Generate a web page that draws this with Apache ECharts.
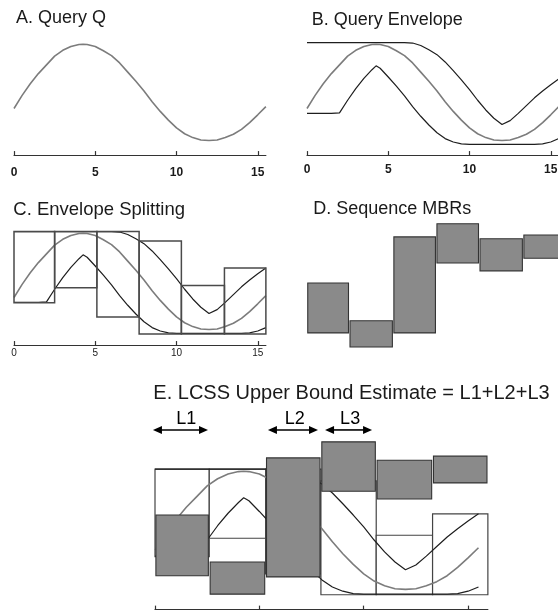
<!DOCTYPE html>
<html><head><meta charset="utf-8">
<script src="https://cdn.jsdelivr.net/npm/echarts@6/dist/echarts.min.js"></script>
<style>html,body{margin:0;padding:0;background:#fff}#c{width:558px;height:611px}</style>
</head><body><div id="c"></div>
<script>
// ---- data ----
const tSamples = [0,0.5,1,1.5,2,2.5,3,3.5,4,4.25,4.5,5,5.5,6,6.5,7,7.5,8,8.5,9,9.5,10,10.5,11,11.5,12,12.5,13,13.5,14,14.5,15,15.5];
const queryQ   = [-0.33,-0.06,0.18,0.39,0.57,0.75,0.87,0.95,0.99,0.995,0.99,0.95,0.86,0.76,0.61,0.42,0.23,0.03,-0.19,-0.39,-0.57,-0.73,-0.85,-0.93,-0.98,-0.99,-0.98,-0.93,-0.86,-0.76,-0.62,-0.46,-0.29];
const envUpper = [1.03,1.03,1.03,1.03,1.03,1.03,1.03,1.03,1.03,1.03,1.03,1.03,1.03,1.03,1.02,0.97,0.88,0.78,0.63,0.45,0.26,0.06,-0.16,-0.36,-0.53,-0.66,-0.58,-0.43,-0.27,-0.11,0.03,0.16,0.28];
const envLower = [-0.43,-0.43,-0.43,-0.43,-0.42,-0.16,0.08,0.29,0.47,0.55,0.5,0.32,0.13,-0.07,-0.29,-0.49,-0.67,-0.83,-0.95,-1.02,-1.06,-1.07,-1.07,-1.07,-1.07,-1.07,-1.07,-1.07,-1.07,-1.07,-1.06,-1.02,-0.95];
const tickValues = [0,5,10,15];
const splitEdgesC = [0,2.5,5.1,7.7,10.3,12.95,15.5];
const envBoxHi = [1.03,1.03,1.03,0.835,-0.08,0.28];
const envBoxLo = [-0.44,-0.13,-0.73,-1.08,-1.08,-1.08];
const mbrEdges = [0,2.6,5.3,7.95,10.6,13.3,15.95];
const mbrHiD = [-0.03,-0.81,0.92,1.19,0.88,0.96];
const mbrLoD = [-1.06,-1.35,-1.06,0.38,0.22,0.48];
const mbrHiE = [0.26,-0.53,1.22,1.49,1.18,1.25];
const mbrLoE = [-0.76,-1.07,-0.78,0.66,0.53,0.80];
const boundNames = ['L1','L2','L3'];
const boundStart = [-0.1,5.41,8.15];
const boundEnd = [2.54,7.81,10.4];
const boundLabelX = [1.5,6.7,9.35];
const boundLevel = 1.69;
const panelTitles = ['A. Query Q','B. Query Envelope','C. Envelope Splitting','D. Sequence MBRs','E. LCSS Upper Bound Estimate = L1+L2+L3'];

// ---- layout ----
const FONT = 'Liberation Sans, Arial, Helvetica, sans-serif';
const panels = [
  {x0:14,  sx:16.25, xmin:0, xmax:15.5,  y0:92.5,  sy:48.5, ymin:-1.29, ymax:1.3},
  {x0:307, sx:16.25, xmin:0, xmax:15.5,  y0:92.5,  sy:48.5, ymin:-1.29, ymax:1.3},
  {x0:14,  sx:16.25, xmin:0, xmax:15.5,  y0:281.5, sy:48.5, ymin:-1.31, ymax:1.3},
  {x0:307, sx:16.25, xmin:0, xmax:15.95, y0:281.5, sy:48.5, ymin:-1.4,  ymax:1.3},
  {x0:155, sx:20.87, xmin:0, xmax:15.95, y0:530.5, sy:59.5, ymin:-1.33, ymax:2.0}
];
const titlePos = [[16,9],[311.7,11],[13.3,200.7],[313.3,200.3],[153.3,383.3]];
const titleSize = [18,18,18.5,18,20];
const labelStyle = [
  {show:true, fontSize:12, fontWeight:'bold', margin:12},
  {show:true, fontSize:12, fontWeight:'bold', margin:9},
  {show:true, fontSize:10, fontWeight:'normal', margin:3},
  {show:false},
  {show:false}
];
const axisShown = [true,true,true,false,true];

const grids = panels.map(p => ({
  left: p.x0 + p.xmin*p.sx, width: (p.xmax-p.xmin)*p.sx,
  top: p.y0 - p.ymax*p.sy, height: (p.ymax-p.ymin)*p.sy,
  containLabel:false, outerBoundsMode:'none'
}));
const xAxes = panels.map((p,i) => ({
  type:'value', gridIndex:i, min:p.xmin, max:p.xmax, show:axisShown[i], position:'bottom',
  splitLine:{show:false},
  axisLine:{show:true, onZero:false, lineStyle:{color:'#333', width:1.2}},
  axisTick:{show:true, inside:true, length:4, customValues:tickValues, lineStyle:{color:'#333', width:1.2}},
  axisLabel:Object.assign({customValues:tickValues, color:'#1a1a1a', fontFamily:FONT, hideOverlap:false}, labelStyle[i])
}));
const yAxes = panels.map((p,i) => ({type:'value', gridIndex:i, min:p.ymin, max:p.ymax, show:false}));

const pts = arr => tSamples.map((t,i)=>[t, arr[i]]);
function curve(idx, arr, color, width, z){
  return {type:'line', xAxisIndex:idx, yAxisIndex:idx, data:pts(arr), showSymbol:false, symbol:'none',
    lineStyle:{color:color, width:width}, z:z, silent:true, animation:false};
}
const GREY = '#7c7c7c', DARK = '#1e1e1e';
function boxes(idx, edges, his, los, style, inset, z){
  const data = his.map((h,i)=>[edges[i], edges[i+1], los[i], h]);
  return {type:'custom', xAxisIndex:idx, yAxisIndex:idx, data:data, z:z, clip:false, silent:true, animation:false,
    renderItem:function(params, api){
      const p0 = api.coord([api.value(0), api.value(3)]);
      const p1 = api.coord([api.value(1), api.value(2)]);
      return {type:'rect', shape:{x:p0[0]+inset, y:p0[1], width:p1[0]-p0[0]-2*inset, height:p1[1]-p0[1]}, style:style};
    }};
}
const arrowData = boundNames.map((n,i)=>[boundStart[i], boundEnd[i], boundLevel, boundLabelX[i], n]);
const arrows = {type:'custom', xAxisIndex:4, yAxisIndex:4, data:arrowData, z:10, clip:false, silent:true, animation:false,
  renderItem:function(params, api){
    const a = api.coord([api.value(0), api.value(2)]);
    const b = api.coord([api.value(1), api.value(2)]);
    const lx = api.coord([api.value(3), api.value(2)])[0];
    const y = a[1], L = 9, W = 4;
    return {type:'group', children:[
      {type:'line', shape:{x1:a[0]+L-1, y1:y, x2:b[0]-L+1, y2:y}, style:{stroke:'#000', lineWidth:1.6}},
      {type:'polygon', shape:{points:[[a[0],y],[a[0]+L,y-W],[a[0]+L,y+W]]}, style:{fill:'#000'}},
      {type:'polygon', shape:{points:[[b[0],y],[b[0]-L,y-W],[b[0]-L,y+W]]}, style:{fill:'#000'}},
      {type:'text', x:lx, y:y-2, style:{text:arrowData[params.dataIndex][4], font:'18px '+FONT, fill:'#000',
        align:'center', verticalAlign:'bottom', textAlign:'center', textVerticalAlign:'bottom'}}
    ]};
  }};

const boxLine = {fill:'none', stroke:'#4a4a4a', lineWidth:1.5};
const boxWhite = {fill:'#ffffff', stroke:'#444', lineWidth:1.2};
const boxGrey = {fill:'#8a8a8a', stroke:'#333', lineWidth:1.1};

const series = [
  curve(0, queryQ, GREY, 1.6, 2),
  curve(1, envUpper, DARK, 1.2, 2), curve(1, queryQ, GREY, 1.6, 2), curve(1, envLower, DARK, 1.2, 2),
  boxes(2, splitEdgesC, envBoxHi, envBoxLo, boxLine, 0, 3),
  curve(2, envUpper, DARK, 1.2, 2), curve(2, queryQ, GREY, 1.6, 2), curve(2, envLower, DARK, 1.2, 2),
  boxes(3, mbrEdges, mbrHiD, mbrLoD, boxGrey, 0.75, 2),
  boxes(4, mbrEdges, envBoxHi, envBoxLo, boxWhite, 0, 1),
  curve(4, envUpper, DARK, 1.2, 2), curve(4, queryQ, GREY, 1.6, 2), curve(4, envLower, DARK, 1.2, 2),
  boxes(4, mbrEdges, mbrHiE, mbrLoE, boxGrey, 0.9, 3),
  arrows
];

const chart = echarts.init(document.getElementById('c'), null, {renderer:'canvas'});
chart.setOption({
  animation:false,
  backgroundColor:'#ffffff',
  title: panelTitles.map((t,i)=>({text:t, left:titlePos[i][0], top:titlePos[i][1], padding:0,
    textStyle:{fontSize:titleSize[i], fontWeight:'normal', fontFamily:FONT, color:'#1a1a1a'}})),
  grid: grids, xAxis: xAxes, yAxis: yAxes, series: series
});
</script></body></html>
